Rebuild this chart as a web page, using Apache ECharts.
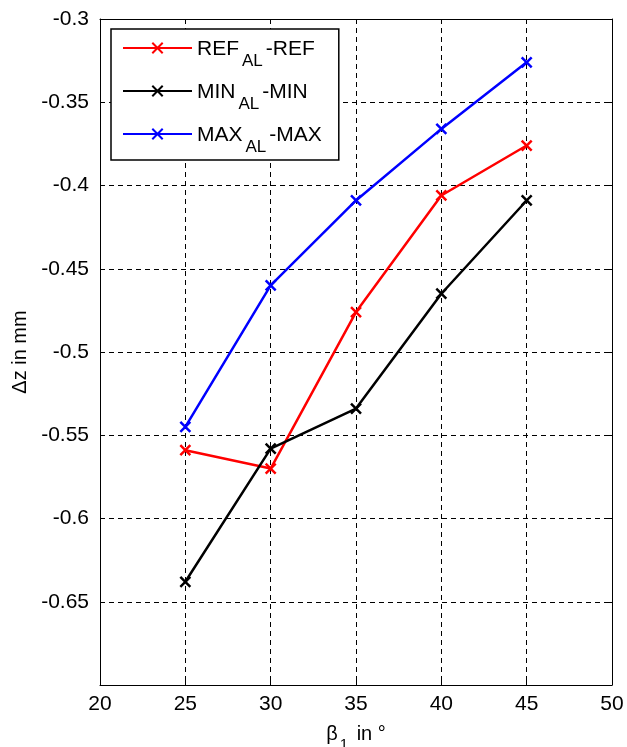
<!DOCTYPE html>
<html>
<head>
<meta charset="utf-8">
<script src="https://cdn.jsdelivr.net/npm/echarts@6/dist/echarts.min.js"></script>
<style>
html,body{margin:0;padding:0;background:#fff;}
#chart{width:627px;height:747px;}
</style>
</head>
<body>
<div id="chart"></div>
<script>
// Inclination angle beta_1 (degrees)
const beta = [25, 30, 35, 40, 45];
// Deviation dz in mm for each configuration
const refValues = [-0.559, -0.570, -0.476, -0.406, -0.376];
const minValues = [-0.638, -0.558, -0.534, -0.465, -0.409];
const maxValues = [-0.545, -0.460, -0.409, -0.366, -0.326];
const seriesNames = ['REF_AL-REF', 'MIN_AL-MIN', 'MAX_AL-MAX'];
const seriesColors = ['#ff0000', '#000000', '#0000ff'];

const FONT = '"Liberation Sans", Arial, sans-serif';
const crossPath = 'path://M0,0 L10,10 M10,0 L0,10';

function pairs(vals) { return beta.map((b, i) => [b, vals[i]]); }

const chart = echarts.init(document.getElementById('chart'), null, { renderer: 'canvas' });

const axisTextStyle = { color: '#000', fontFamily: FONT, fontSize: 21 };
const gridLine = { show: true, lineStyle: { color: '#000', type: [5, 4], width: 1 } };

function makeSeries(name, vals, color) {
  return {
    name: name,
    type: 'line',
    data: pairs(vals),
    symbol: crossPath,
    symbolSize: 10,
    showSymbol: true,
    lineStyle: { color: color, width: 2.5 },
    itemStyle: { color: color, borderColor: color, borderWidth: 2.5 },
    emphasis: { disabled: true },
    animation: false
  };
}

chart.setOption({
  animation: false,
  backgroundColor: '#fff',
  grid: { left: 100, right: 15, top: 19, bottom: 62, show: false, containLabel: false, outerBoundsMode: 'none' },
  xAxis: [{
    type: 'value', min: 20, max: 50, interval: 5, position: 'bottom',
    axisLine: { show: true, onZero: false, lineStyle: { color: '#000', width: 1 } },
    axisTick: { show: true, inside: true, length: 5, lineStyle: { color: '#000' } },
    axisLabel: Object.assign({ margin: 9 }, axisTextStyle),
    splitLine: gridLine,
    name: '{n|β}{s|1}{n| in °}',
    nameLocation: 'middle',
    nameGap: 37,
    nameTextStyle: {
      fontFamily: FONT, fontSize: 20, color: '#000',
      rich: {
        n: { fontFamily: FONT, fontSize: 20, color: '#000', verticalAlign: 'bottom', lineHeight: 22 },
        s: { fontFamily: FONT, fontSize: 15, color: '#000', verticalAlign: 'bottom', padding: [0, 3, -8, 2], lineHeight: 22 }
      }
    }
  }, {
    type: 'value', min: 20, max: 50, interval: 5, position: 'top',
    axisLine: { show: true, onZero: false, lineStyle: { color: '#000', width: 1 } },
    axisTick: { show: true, inside: true, length: 5, lineStyle: { color: '#000' } },
    axisLabel: { show: false },
    splitLine: { show: false }
  }],
  yAxis: [{
    type: 'value', min: -0.7, max: -0.3, interval: 0.05, position: 'left',
    axisLine: { show: true, onZero: false, lineStyle: { color: '#000', width: 1 } },
    axisTick: { show: true, inside: true, length: 5, lineStyle: { color: '#000' } },
    axisLabel: Object.assign({
      margin: 11,
      formatter: function (v) {
        const r = Math.round(v * 100) / 100;
        if (r <= -0.7 + 1e-9) return '';
        return String(r);
      }
    }, axisTextStyle),
    splitLine: gridLine,
    name: 'Δz in mm',
    nameLocation: 'middle',
    nameGap: 69,
    nameRotate: 90,
    nameTextStyle: { fontFamily: FONT, fontSize: 20, color: '#000' }
  }, {
    type: 'value', min: -0.7, max: -0.3, interval: 0.05, position: 'right',
    axisLine: { show: true, onZero: false, lineStyle: { color: '#000', width: 1 } },
    axisTick: { show: true, inside: true, length: 5, lineStyle: { color: '#000' } },
    axisLabel: { show: false },
    splitLine: { show: false }
  }],
  legend: {
    show: true,
    left: 111,
    top: 29,
    orient: 'vertical',
    backgroundColor: '#fff',
    borderColor: '#000',
    borderWidth: 1.5,
    borderRadius: 0,
    padding: [10, 17, 4, 11],
    itemGap: 12,
    itemWidth: 69,
    itemHeight: 13,
    data: seriesNames,
    formatter: function (name) {
      const parts = name.split('_');
      const rest = parts[1].split('-');
      return '{n|' + parts[0] + '}{s|' + rest[0] + '}{n|-' + rest[1] + '}';
    },
    textStyle: {
      fontFamily: FONT, fontSize: 21, color: '#000',
      rich: {
        n: { fontFamily: FONT, fontSize: 21, color: '#000', verticalAlign: 'bottom', lineHeight: 24 },
        s: { fontFamily: FONT, fontSize: 17, color: '#000', verticalAlign: 'bottom', padding: [0, 3, -10, 3], lineHeight: 24 }
      }
    }
  },
  series: [
    makeSeries(seriesNames[0], refValues, seriesColors[0]),
    makeSeries(seriesNames[1], minValues, seriesColors[1]),
    makeSeries(seriesNames[2], maxValues, seriesColors[2])
  ]
});
</script>
</body>
</html>
